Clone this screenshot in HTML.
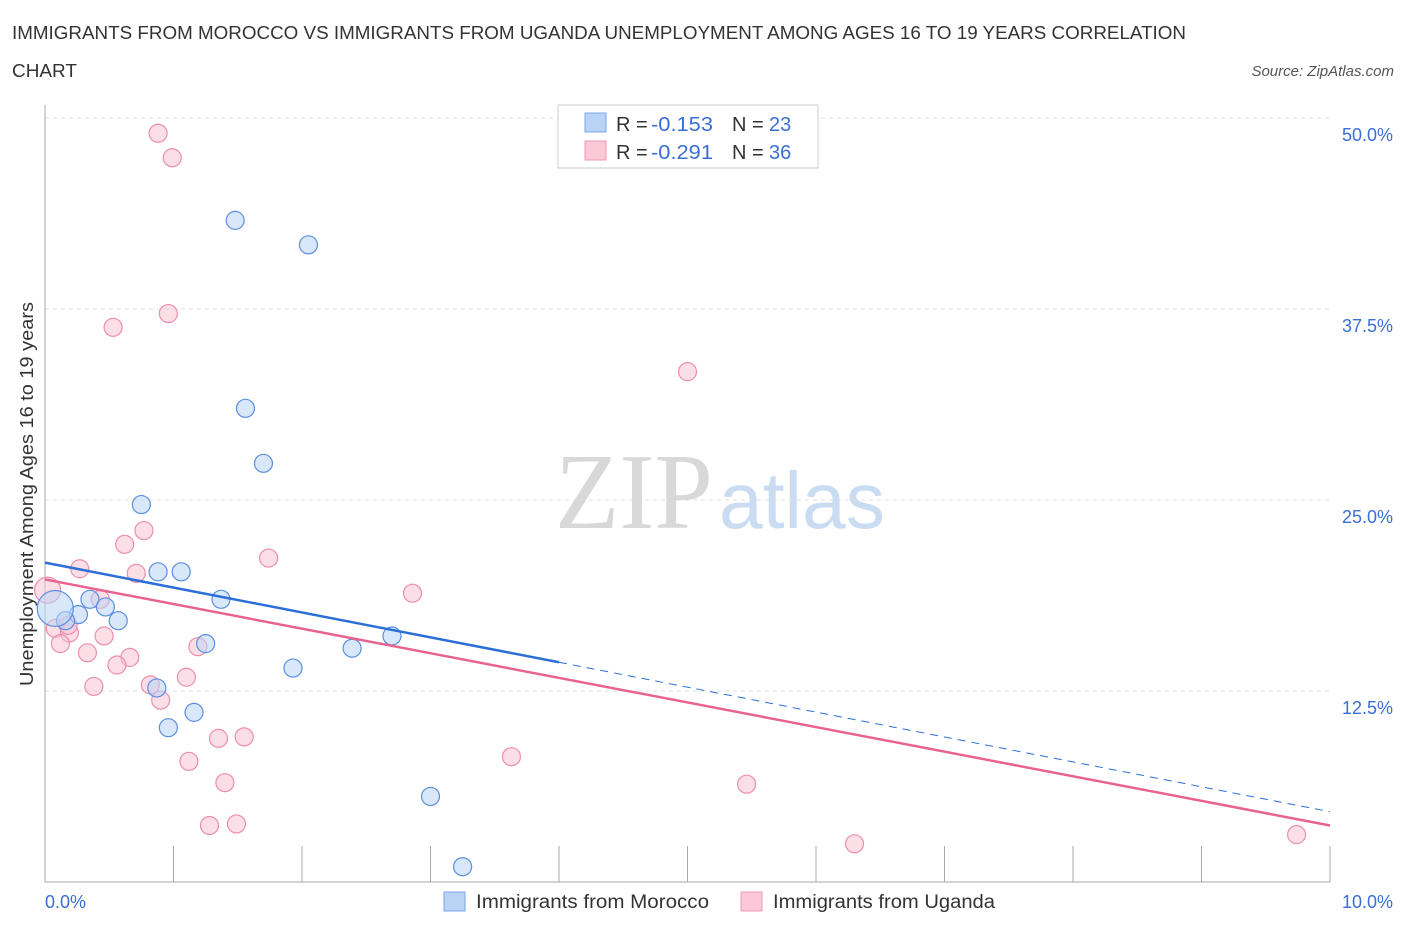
<!DOCTYPE html>
<html><head><meta charset="utf-8"><style>
body{margin:0;background:#fff;font-family:"Liberation Sans",sans-serif;}
</style></head><body>
<svg id="c" width="1406" height="930" xmlns="http://www.w3.org/2000/svg" font-family="Liberation Sans, sans-serif">
<text x="12" y="39" font-size="18" fill="#333" textLength="1174" lengthAdjust="spacingAndGlyphs">IMMIGRANTS FROM MOROCCO VS IMMIGRANTS FROM UGANDA UNEMPLOYMENT AMONG AGES 16 TO 19 YEARS CORRELATION</text>
<text x="12" y="77" font-size="18" fill="#333" textLength="65" lengthAdjust="spacingAndGlyphs">CHART</text>
<text x="1394" y="76" font-size="15" fill="#555" font-style="italic" text-anchor="end">Source: ZipAtlas.com</text>
<text x="555" y="528" font-size="108" fill="#d8d8d8" font-family="Liberation Serif, serif" textLength="158" lengthAdjust="spacingAndGlyphs">ZIP</text>
<text x="719" y="528" font-size="80" fill="#cadcf2" textLength="166" lengthAdjust="spacingAndGlyphs">atlas</text>
<g id="grid"></g>
<g id="marks"></g>
<text x="33" y="494" font-size="18" fill="#333" text-anchor="middle" transform="rotate(-90 33 494)" textLength="384" lengthAdjust="spacingAndGlyphs">Unemployment Among Ages 16 to 19 years</text>
<g>
<rect x="558" y="105" width="260" height="63" fill="#fff" stroke="#ccc"/>
<rect x="585" y="113" width="21" height="19" fill="#b9d3f5" stroke="#7aa6e6"/>
<rect x="585" y="141" width="21" height="19" fill="#fac8d6" stroke="#ee9ab4"/>
<text x="616" y="131" font-size="20" fill="#333">R =</text>
<text x="651" y="131" font-size="20" fill="#3a6fd8" textLength="62" lengthAdjust="spacingAndGlyphs">-0.153</text>
<text x="732" y="131" font-size="20" fill="#333">N =</text>
<text x="769" y="131" font-size="20" fill="#3a6fd8">23</text>
<text x="616" y="159" font-size="20" fill="#333">R =</text>
<text x="651" y="159" font-size="20" fill="#3a6fd8" textLength="62" lengthAdjust="spacingAndGlyphs">-0.291</text>
<text x="732" y="159" font-size="20" fill="#333">N =</text>
<text x="769" y="159" font-size="20" fill="#3a6fd8">36</text>
</g>
<g>
<rect x="444" y="892" width="21" height="19" fill="#b9d3f5" stroke="#7aa6e6"/>
<text x="476" y="908" font-size="19" fill="#333" textLength="233" lengthAdjust="spacingAndGlyphs">Immigrants from Morocco</text>
<rect x="741" y="892" width="21" height="19" fill="#fac8d6" stroke="#ee9ab4"/>
<text x="773" y="908" font-size="19" fill="#333" textLength="222" lengthAdjust="spacingAndGlyphs">Immigrants from Uganda</text>
</g>
</svg>
<script>
const yTicks=[12.5,25,37.5,50];
const yTickLabels=["12.5%","25.0%","37.5%","50.0%"];
const xTicks=[0,1,2,3,4,5,6,7,8,9,10];
const moroccoX=[1.48,2.05,1.56,1.70,0.75,0.88,1.06,1.37,0.35,0.47,0.26,0.16,0.57,0.08,1.25,2.70,2.39,1.93,0.87,1.16,0.96,3.00,3.25];
const moroccoY=[43.3,41.7,31.0,27.4,24.7,20.3,20.3,18.5,18.5,18.0,17.5,17.1,17.1,17.9,15.6,16.1,15.3,14.0,12.7,11.1,10.1,5.6,1.0];
const ugandaX=[0.88,0.99,0.96,0.53,5.00,0.77,0.62,1.74,0.27,0.71,2.86,0.02,0.43,0.08,0.19,0.46,0.12,0.33,1.19,0.66,0.56,0.38,1.10,0.82,0.90,1.35,1.55,1.12,3.63,1.40,5.46,1.28,1.49,6.30,9.74,0.18];
const ugandaY=[49.0,47.4,37.2,36.3,33.4,23.0,22.1,21.2,20.5,20.2,18.9,19.1,18.5,16.6,16.3,16.1,15.6,15.0,15.4,14.7,14.2,12.8,13.4,12.9,11.9,9.4,9.5,7.9,8.2,6.5,6.4,3.7,3.8,2.5,3.1,16.8];
const moroccoTrend=[20.9,-1.63]; // intercept, slope
const ugandaTrend=[19.8,-1.61];
const X=v=>45+v*128.5, Y=v=>882-v*15.28;
const NS="http://www.w3.org/2000/svg";
function mk(t,a,p){const e=document.createElementNS(NS,t);for(const k in a)e.setAttribute(k,a[k]);p.appendChild(e);return e;}
const grid=document.getElementById('grid'), marks=document.getElementById('marks');
yTicks.forEach((v,i)=>{
 const l=mk('line',{x1:45,x2:1330,y1:Y(v),y2:Y(v),stroke:'#ddd','stroke-dasharray':'4,4'},grid);
 
 
 const t=mk('text',{x:1393,y:Y(v)+23,'font-size':18,fill:'#3a6fd8','text-anchor':'end'},grid);t.textContent=yTickLabels[i];
 
 
});
const ax=mk('line',{x1:45,x2:45,y1:105,y2:882,stroke:'#aaa'},grid);


const bx=mk('line',{x1:45,x2:1330,y1:882,y2:882,stroke:'#aaa'},grid);


xTicks.forEach(v=>{const t=mk('line',{x1:X(v),x2:X(v),y1:846,y2:882,stroke:'#aaa'},grid);
 
 });
const xl0=mk('text',{x:45,y:908,'font-size':18,fill:'#3a6fd8'},grid);xl0.textContent='0.0%';


const xl1=mk('text',{x:1393,y:908,'font-size':18,fill:'#3a6fd8','text-anchor':'end'},grid);xl1.textContent='10.0%';


function pts(xs,ys,fill,stroke,name,bigIdx,bigR){
 xs.forEach((x,i)=>{const c=mk('circle',{cx:X(x),cy:Y(ys[i]),r:i===bigIdx?bigR:9,fill:fill,'fill-opacity':0.55,stroke:stroke,'stroke-width':1.2},marks);
 
 });
}
pts(ugandaX,ugandaY,'#f9c3d3','#ec8fab','uganda-point',11,13);
pts(moroccoX,moroccoY,'#b9d3f5','#5a8fe0','morocco-point',13,18);
function line(tr,x0,x1,col,dash,name){const l=mk('line',{x1:X(x0),y1:Y(tr[0]+tr[1]*x0),x2:X(x1),y2:Y(tr[0]+tr[1]*x1),stroke:col,'stroke-width':dash?1:2.5},marks);
 if(dash)l.setAttribute('stroke-dasharray','8,6');
 
 }
line(ugandaTrend,0,10,'#e8638e',false,'uganda-trend-line');
line(moroccoTrend,0,4,'#2b6fd6',false,'morocco-trend-line');
line(moroccoTrend,4,10,'#2b6fd6',true,'morocco-trend-extension');
</script>
</body></html>
